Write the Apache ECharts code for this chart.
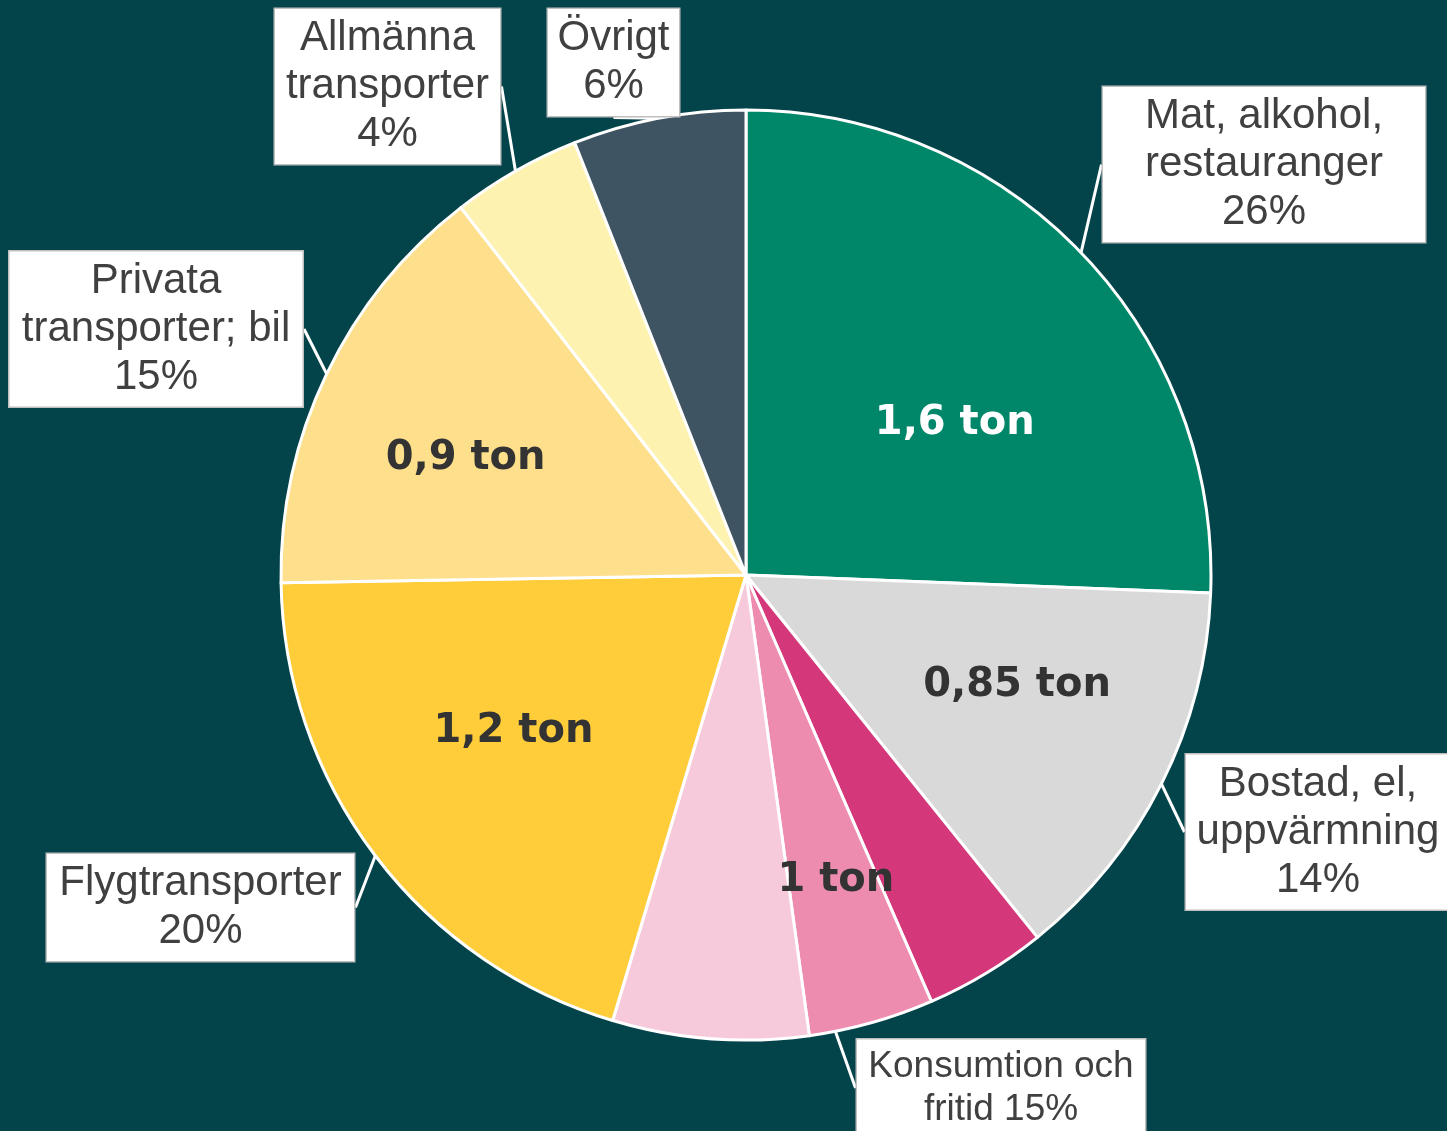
<!DOCTYPE html>
<html>
<head>
<meta charset="utf-8">
<script src="https://cdn.jsdelivr.net/npm/echarts@6/dist/echarts.min.js"></script>
<style>
  html, body { margin: 0; background: #03434a; }
  #main { width: 1447px; height: 1131px; }
</style>
</head>
<body>
<div id="main"></div>
<script>
// slices as drawn (konsumtion is split in three shades)
var sliceNames = ['Mat, alkohol, restauranger', 'Bostad, el, uppvärmning', 'Konsumtion och fritid 1',
  'Konsumtion och fritid 2', 'Konsumtion och fritid 3', 'Flygtransporter', 'Privata transporter; bil',
  'Allmänna transporter', 'Övrigt'];
var sliceValues = [25.6, 13.6, 4.25, 4.35, 6.8, 20.1, 14.75, 4.5, 6.0];
var sliceColors = ['#00876a', '#d9d9d9', '#d4387a', '#ee8caf', '#f7cadb', '#ffcd3a', '#fddf8c', '#fef2b0', '#3f5462'];

// groups used for the labels
var groupNames = ['Mat, alkohol,\nrestauranger', 'Bostad, el,\nuppvärmning', 'Konsumtion och\nfritid',
  'Flygtransporter', 'Privata\ntransporter; bil', 'Allmänna\ntransporter', 'Övrigt'];
var groupValues = [25.6, 13.6, 15.4, 20.1, 14.75, 4.5, 6.0];
var groupPercents = ['26%', '14%', '15%', '20%', '15%', '4%', '6%'];
var groupTons = ['1,6 ton', '0,85 ton', '1 ton', '1,2 ton', '0,9 ton', '', ''];

// callout boxes (layout only)
var boxes = [
  { cx: 1264, cy: 164.5, w: 322, fs: 42, lh: 48, sep: '\n' },
  { cx: 1318, cy: 832, w: 264, fs: 42, lh: 48, sep: '\n' },
  { cx: 1001, cy: 1088, w: 288, fs: 37, lh: 43, sep: ' ' },
  { cx: 200.5, cy: 907.5, w: 307, fs: 42, lh: 48, sep: '\n' },
  { cx: 156, cy: 329, w: 293, fs: 42, lh: 48, sep: '\n' },
  { cx: 387.5, cy: 86.5, w: 225, fs: 42, lh: 48, sep: '\n' },
  { cx: 613.5, cy: 62.5, w: 131, fs: 42, lh: 48, sep: '\n' }
];
// nudges for the bold "ton" labels
var tonOffsets = [[3, 47], [16, -18], [35, 25], [-5, -16], [-23, 7], [0, 0], [0, 0]];
var tonColors = ['#ffffff', '#333333', '#333333', '#333333', '#333333', '#333333', '#333333'];

var center = [746, 575];
var radius = 465;

var chart = echarts.init(document.getElementById('main'));

var baseData = sliceNames.map(function (n, i) {
  return { name: n, value: sliceValues[i], itemStyle: { color: sliceColors[i] } };
});

var tonData = groupNames.map(function (n, i) {
  return {
    name: n,
    value: groupValues[i],
    label: { show: groupTons[i] !== '', color: tonColors[i], offset: tonOffsets[i] }
  };
});

var calloutData = groupNames.map(function (n, i) {
  var b = boxes[i];
  return {
    name: n,
    value: groupValues[i],
    label: {
      formatter: n + b.sep + groupPercents[i],
      width: b.w,
      fontSize: b.fs,
      lineHeight: b.lh
    }
  };
});

var option = {
  backgroundColor: '#03434a',
  animation: false,
  series: [
    {
      type: 'pie',
      center: center,
      radius: [0, radius],
      startAngle: 90,
      clockwise: true,
      silent: true,
      label: { show: false },
      labelLine: { show: false },
      itemStyle: { borderColor: '#ffffff', borderWidth: 3 },
      data: baseData
    },
    {
      // bold tonnage labels
      type: 'pie',
      center: center,
      radius: [100, radius],
      startAngle: 90,
      clockwise: true,
      silent: true,
      itemStyle: { color: 'rgba(0,0,0,0)', borderWidth: 0 },
      label: {
        position: 'inside',
        formatter: function (p) { return groupTons[p.dataIndex]; },
        fontFamily: 'DejaVu Sans',
        fontWeight: 'bold',
        fontSize: 40
      },
      labelLine: { show: false },
      data: tonData
    },
    {
      // callout boxes
      type: 'pie',
      center: center,
      radius: [0, radius],
      startAngle: 90,
      clockwise: true,
      silent: true,
      avoidLabelOverlap: false,
      itemStyle: { color: 'rgba(0,0,0,0)', borderWidth: 0 },
      label: {
        position: 'outside',
        color: '#404040',
        fontFamily: 'Liberation Sans, Arial, sans-serif',
        align: 'center',
        backgroundColor: '#ffffff',
        borderColor: '#bfbfbf',
        borderWidth: 1.5,
        padding: [5.5, 0]
      },
      labelLine: {
        show: true,
        length: 4,
        length2: 0,
        smooth: false,
        lineStyle: { color: '#ffffff', width: 3 }
      },
      labelLayout: function (p) {
        var b = boxes[p.dataIndex];
        return { x: b.cx, y: b.cy, align: 'center', verticalAlign: 'middle', hideOverlap: false };
      },
      data: calloutData
    }
  ]
};

chart.setOption(option);
</script>
</body>
</html>
